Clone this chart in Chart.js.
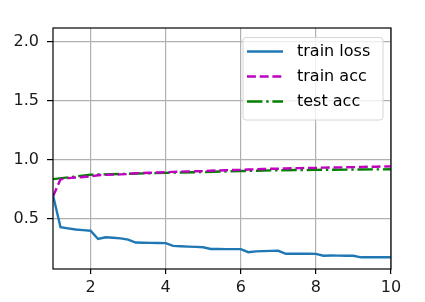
<!DOCTYPE html>
<html>
<head>
<meta charset="utf-8">
<script src="https://cdn.jsdelivr.net/npm/chart.js@4/dist/chart.umd.min.js"></script>
<style>
  html, body { margin: 0; padding: 0; background: #fff; }
  #wrap { width: 425px; height: 302px; }
</style>
</head>
<body>
<div id="wrap"><canvas id="c" width="425" height="302"></canvas></div>
<script>
// donnees (epoques fractionnaires, 5 points par epoque)
var trainX = [1.0,
  1.2, 1.4, 1.6, 1.8, 2.0,
  2.2, 2.4, 2.6, 2.8, 3.0,
  3.2, 3.4, 3.6, 3.8, 4.0,
  4.2, 4.4, 4.6, 4.8, 5.0,
  5.2, 5.4, 5.6, 5.8, 6.0,
  6.2, 6.4, 6.6, 6.8, 7.0,
  7.2, 7.4, 7.6, 7.8, 8.0,
  8.2, 8.4, 8.6, 8.8, 9.0,
  9.2, 9.4, 9.6, 9.8, 10.0]
var trainLoss = [0.70,
  0.43, 0.42, 0.41, 0.405, 0.40,
  0.33, 0.345, 0.34, 0.335, 0.325,
  0.30, 0.298, 0.297, 0.296, 0.295,
  0.272, 0.268, 0.265, 0.263, 0.26,
  0.245, 0.245, 0.244, 0.244, 0.244,
  0.218, 0.225, 0.227, 0.229, 0.23,
  0.205, 0.206, 0.205, 0.205, 0.204,
  0.188, 0.19, 0.189, 0.188, 0.188,
  0.175, 0.176, 0.176, 0.176, 0.176]
var trainAcc = [0.69,
  0.835, 0.845, 0.85, 0.855, 0.86,
  0.87, 0.873, 0.875, 0.877, 0.88,
  0.886, 0.889, 0.891, 0.893, 0.895,
  0.898, 0.9, 0.902, 0.903, 0.905,
  0.908, 0.91, 0.912, 0.914, 0.915,
  0.918, 0.92, 0.922, 0.924, 0.925,
  0.927, 0.929, 0.93, 0.931, 0.932,
  0.934, 0.935, 0.936, 0.937, 0.938,
  0.94, 0.941, 0.942, 0.944, 0.945]
var testX = [1, 2, 3, 4, 5, 6, 7, 8, 9, 10]
var testAcc = [0.837, 0.874, 0.882, 0.89, 0.897, 0.905, 0.912, 0.915, 0.918, 0.92]

var xTicks = [2, 4, 6, 8, 10]
var yTicks = [0.5, 1.0, 1.5, 2.0]
var noms = ["train loss", "train acc", "test acc"]

function pts(xs, ys){
    var out = []
    for(var i=0;i<xs.length;i++){
        out.push({x: xs[i], y: ys[i]})
    }
    return out
}

var police = "16px 'DejaVu Sans'"

// cadre noir + legende facon matplotlib
var cadre = {
    id: "cadre",
    afterDraw: function(chart){
        var ctx = chart.ctx
        var a = chart.chartArea
        ctx.save()
        ctx.strokeStyle = "#000"
        ctx.lineWidth = 1.2
        ctx.strokeRect(a.left, a.top, a.right - a.left, a.bottom - a.top)

        // boite de legende
        var bx = 243, by = 37.5, bw = 140, bh = 82.5, r = 3
        ctx.beginPath()
        ctx.moveTo(bx + r, by)
        ctx.arcTo(bx + bw, by, bx + bw, by + bh, r)
        ctx.arcTo(bx + bw, by + bh, bx, by + bh, r)
        ctx.arcTo(bx, by + bh, bx, by, r)
        ctx.arcTo(bx, by, bx + bw, by, r)
        ctx.closePath()
        ctx.fillStyle = "rgba(255,255,255,0.8)"
        ctx.fill()
        ctx.strokeStyle = "#d6d6d6"
        ctx.lineWidth = 1
        ctx.stroke()

        var rows = [51.5, 76.5, 101.5]
        chart.data.datasets.forEach(function(ds, i){
            ctx.beginPath()
            ctx.setLineDash(ds.borderDash || [])
            ctx.strokeStyle = ds.borderColor
            ctx.lineWidth = ds.borderWidth
            ctx.moveTo(247, rows[i])
            ctx.lineTo(283, rows[i])
            ctx.stroke()
            ctx.setLineDash([])
            ctx.fillStyle = "#000"
            ctx.font = police
            ctx.textBaseline = "middle"
            ctx.fillText(ds.label, 297, rows[i])
        })
        ctx.restore()
    }
}

var chart = new Chart(document.getElementById("c"), {
    type: "line",
    data: {
        datasets: [
            {label: noms[0], data: pts(trainX, trainLoss), borderColor: "#1f77b4", borderWidth: 2.4, pointRadius: 0, tension: 0},
            {label: noms[1], data: pts(trainX, trainAcc), borderColor: "#bf00bf", borderWidth: 2.4, borderDash: [8.9, 3.8], pointRadius: 0, tension: 0},
            {label: noms[2], data: pts(testX, testAcc), borderColor: "#008000", borderWidth: 2.4, borderDash: [15.4, 3.8, 2.4, 3.8], pointRadius: 0, tension: 0}
        ]
    },
    options: {
        responsive: false,
        animation: false,
        layout: {padding: {left: 0, right: 34, top: 28, bottom: 0}},
        plugins: {legend: {display: false}, tooltip: {enabled: false}},
        scales: {
            x: {
                type: "linear", min: 1, max: 10,
                afterBuildTicks: function(s){ s.ticks = xTicks.map(function(v){ return {value: v} }) },
                afterFit: function(s){ s.height = 33 },
                grid: {color: "#b0b0b0", lineWidth: 1.2, tickColor: "#000", tickLength: 5},
                border: {display: false},
                ticks: {color: "#1a1a1a", font: {family: "DejaVu Sans", size: 16}, padding: 4, maxRotation: 0,
                    callback: function(v){ return String(v) }}
            },
            y: {
                min: 0.076, max: 2.116,
                afterBuildTicks: function(s){ s.ticks = yTicks.map(function(v){ return {value: v} }) },
                afterFit: function(s){ s.width = 53 },
                grid: {color: "#b0b0b0", lineWidth: 1.2, tickColor: "#000", tickLength: 6},
                border: {display: false},
                ticks: {color: "#1a1a1a", font: {family: "DejaVu Sans", size: 16}, padding: 8,
                    callback: function(v){ return v.toFixed(1) }}
            }
        }
    },
    plugins: [cadre]
})
</script>
</body>
</html>
